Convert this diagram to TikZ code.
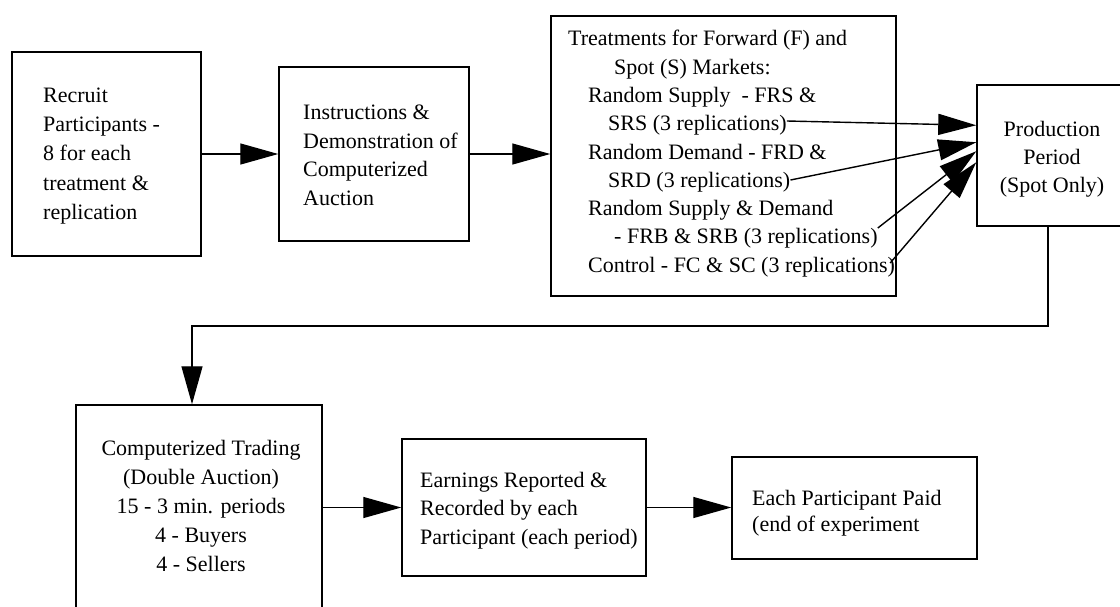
\documentclass[tikz,border=0pt]{standalone}
\usepackage{fontspec}
\setmainfont{Liberation Serif}
\usetikzlibrary{arrows.meta,calc}
\begin{document}
\begin{tikzpicture}[x=1pt,y=-1pt,
  box/.style={draw, line width=1.5pt, inner sep=0pt, rectangle},
  txt/.style={inner sep=0pt, font=\fontsize{22}{29}\selectfont},
  conn/.style={line width=1.4pt, -{Triangle[length=38pt,width=21pt]}},
]
\useasboundingbox (0,0) rectangle (1120,606);

% boxes
\node[box, minimum width=189pt, minimum height=204pt] (b1) at (106.5,154) {};
\node[box, minimum width=190pt, minimum height=174pt] (b2) at (374,154) {};
\node[box, minimum width=345pt, minimum height=280pt] (b3) at (723.5,156) {};
\node[box, minimum width=183pt, minimum height=141pt] (b4) at (1068.5,155.5) {};
\node[box, minimum width=246pt, minimum height=215pt] (b5) at (199,512.5) {};
\node[box, minimum width=244pt, minimum height=137pt] (b6) at (524,507.5) {};
\node[box, minimum width=245pt, minimum height=102pt] (b7) at (854.5,508) {};

% box 1 text
\node[txt, anchor=base west] (t1a) at (43,102) {Recruit};
\node[txt, anchor=base west] (t1b) at (43,131) {Participants -};
\node[txt, anchor=base west] (t1c) at (43,160) {8 for each};
\node[txt, anchor=base west] (t1d) at (43,190) {treatment \&};
\node[txt, anchor=base west] (t1e) at (43,219) {replication};

% box 2 text
\node[txt, anchor=base west] (t2a) at (303,119) {Instructions \&};
\node[txt, anchor=base west] (t2b) at (303,148) {Demonstration of};
\node[txt, anchor=base west] (t2c) at (303,176) {Computerized};
\node[txt, anchor=base west] (t2d) at (303,205) {Auction};

% box 3 text
\node[txt, anchor=base west] (t3a) at (568,45) {Treatments for Forward (F) and};
\node[txt, anchor=base west] (t3b) at (614,74) {Spot (S) Markets:};
\node[txt, anchor=base west] (t3c) at (588,102) {Random Supply~ - FRS \&};
\node[txt, anchor=base west] (t3d) at (608,130) {SRS (3 replications)};
\node[txt, anchor=base west] (t3e) at (588,159) {Random Demand - FRD \&};
\node[txt, anchor=base west] (t3f) at (608,187) {SRD (3 replications)};
\node[txt, anchor=base west] (t3g) at (588,215) {Random Supply \& Demand};
\node[txt, anchor=base west] (t3h) at (614,243) {- FRB \& SRB (3 replications)};
\node[txt, anchor=base west] (t3i) at (588,272) {Control - FC \& SC (3 replications)};

% box 4 text
\node[txt, anchor=base] (t4a) at (1052,136) {Production};
\node[txt, anchor=base] (t4b) at (1052,164) {Period};
\node[txt, anchor=base] (t4c) at (1052,192) {(Spot Only)};

% box 5 text
\node[txt, anchor=base] (t5a) at (201,455) {Computerized Trading};
\node[txt, anchor=base] (t5b) at (201,484) {(Double Auction)};
\node[txt, anchor=base] (t5c) at (201,513) {15 - 3 min. periods};
\node[txt, anchor=base] (t5d) at (201,542) {4 - Buyers};
\node[txt, anchor=base] (t5e) at (201,571) {4 - Sellers};

% box 6 text
\node[txt, anchor=base west] (t6a) at (420,487) {Earnings Reported \&};
\node[txt, anchor=base west] (t6b) at (420,515) {Recorded by each};
\node[txt, anchor=base west] (t6c) at (420,544) {Participant (each period)};

% box 7 text
\node[txt, anchor=base west] (t7a) at (752,505) {Each Participant Paid};
\node[txt, anchor=base west] (t7b) at (752,531) {(end of experiment};

% connectors between boxes
\draw[conn] (b1.east) -- (b2.west |- b1.east);
\draw[conn] (b2.east) -- (b2.east -| b3.west);
\draw[conn] (b6.west -| b5.east) -- (b6.west);
\draw[conn] (b6.east) -- (b6.east -| b7.west);

% treatment arrows into production box
\draw[conn] ([yshift=9pt]t3d.base east) -- ($(b4.north west)+(0,41)$);
\draw[conn] ([yshift=7pt]t3f.base east) -- ($(b4.north west)+(0,58)$);
\draw[conn] ([yshift=15pt]t3h.base east) -- ($(b4.north west)+(0,67)$);
\draw[conn] ([xshift=-5pt,yshift=9pt]t3i.base east) -- ($(b4.north west)+(0,78)$);

% feedback connector
\coordinate (fb1) at (1048,326);
\coordinate (fb2) at (192,326);
\draw[conn] (b4.south -| fb1) -- (fb1) -- (fb2) -- (fb2 |- b5.north);
\end{tikzpicture}
\end{document}
